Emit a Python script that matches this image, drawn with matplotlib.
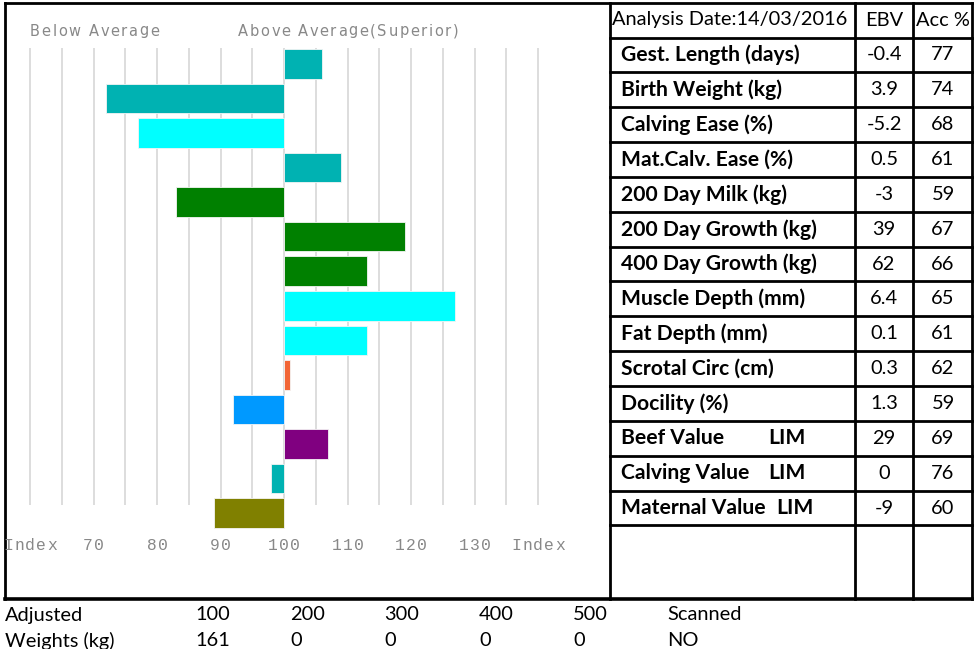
import matplotlib
matplotlib.use("Agg")
import matplotlib.pyplot as plt
from matplotlib.font_manager import FontProperties

# ---------------- data ----------------
traits = ["Gest. Length (days)", "Birth Weight (kg)", "Calving Ease (%)",
          "Mat.Calv. Ease (%)", "200 Day Milk (kg)", "200 Day Growth (kg)",
          "400 Day Growth (kg)", "Muscle Depth (mm)", "Fat Depth (mm)",
          "Scrotal Circ (cm)", "Docility (%)", "Beef Value", "Calving Value",
          "Maternal Value"]
breed_tags = ["", "", "", "", "", "", "", "", "", "", "", "LIM", "LIM", "LIM"]
ebv = ["-0.4", "3.9", "-5.2", "0.5", "-3", "39", "62", "6.4", "0.1", "0.3",
       "1.3", "29", "0", "-9"]
acc = ["77", "74", "68", "61", "59", "67", "66", "65", "61", "62", "59",
       "69", "76", "60"]
index_values = [106, 72, 77, 109, 83, 119, 113, 127, 113, 101, 92, 107, 98, 89]
bar_colors = ["#00B2B2", "#00B2B2", "#00FFFF", "#00B2B2", "#008000", "#008000",
              "#008000", "#00FFFF", "#00FFFF", "#F26535", "#0099FF", "#800080",
              "#00B2B2", "#808000"]
index_ticks = [60, 70, 80, 90, 100, 110, 120, 130, 140]
index_tick_labels = ["Index", "70", "80", "90", "100", "110", "120", "130", "Index"]
grid_positions = list(range(60, 141, 5))
analysis_date = "14/03/2016"
weight_days = ["100", "200", "300", "400", "500"]
weight_values = ["161", "0", "0", "0", "0"]
scanned_value = "NO"

# ---------------- layout ----------------
W, H = 976, 649
fig = plt.figure(figsize=(W / 100, H / 100), dpi=100)
fig.patch.set_facecolor("white")
renderer = fig.canvas.get_renderer()

# overlay in pixel coordinates (top-left origin)
ov = fig.add_axes([0, 0, 1, 1], zorder=5)
ov.set_xlim(0, W)
ov.set_ylim(H, 0)
ov.axis("off")
ov.patch.set_alpha(0)


def text_w(s, fp):
    if not s:
        return 0.0
    w, h, d = renderer.get_text_width_height_descent(s.replace(" ", "\u00a0"), fp, ismath=False)
    return w


def spaced_text(axis, x, y, s, family, size, spacing, color, ha="left"):
    """Draw text with extra letter spacing (in pixels)."""
    fp = FontProperties(family=family, size=size)
    total = text_w(s, fp) + spacing * (len(s) - 1)
    x0 = x - total / 2 if ha == "center" else x
    for i, ch in enumerate(s):
        if ch == " ":
            continue
        axis.text(x0 + text_w(s[:i], fp) + i * spacing, y, ch, ha="left",
                  va="center", fontproperties=fp, color=color)
    return total


# bar chart axes
left_px, right_px, top_px, bot_px = 5, 610, 3, 599
ax = fig.add_axes([left_px / W, 1 - bot_px / H, (right_px - left_px) / W,
                   (bot_px - top_px) / H], zorder=1)
px_per_unit = 6.35
center_px = 284
row0_px, row_pitch = 64, 34.54
ax.set_xlim(100 - (center_px - left_px) / px_per_unit,
            100 + (right_px - center_px) / px_per_unit)
ax.set_ylim((bot_px - row0_px) / row_pitch, (top_px - row0_px) / row_pitch)
ax.axis("off")

ax.vlines(grid_positions, (48 - row0_px) / row_pitch, (505 - row0_px) / row_pitch,
          color="#DDDDDD", lw=1.4, zorder=0)
rows = list(range(len(index_values)))
ax.barh(rows, [v - 100 for v in index_values], left=100, height=0.855,
        color=bar_colors, edgecolor="#f4f4f4", linewidth=0.6, zorder=2)

# tick labels: positions from the data scale, drawn with letter spacing
fig.canvas.draw()
for t, lab in zip(index_ticks, index_tick_labels):
    xp, _ = ax.transData.transform((t, 0))
    spaced_text(ov, xp, 545, lab, "Liberation Mono", 11.8, 1.1, "#888888",
                ha="center")

spaced_text(ov, 30, 31, "Below Average", "DejaVu Sans", 10.5, 1.7, "#888888")
spaced_text(ov, 238, 31, "Above Average(Superior)", "DejaVu Sans", 10.5, 1.65,
            "#888888")

# ---------------- fonts fitted to target widths ----------------


def fit_size(text, target_px, weight, base=14):
    fp = FontProperties(family="Lato", weight=weight, size=base)
    return base * target_px / text_w(text, fp)


bold_size = fit_size("Gest. Length (days)", 180, "bold")
reg_size = fit_size("Analysis Date:14/03/2016", 236, "normal")

# ---------------- table ----------------
lw = 2.0
col_x = [610, 855, 913, 972]
header_line = 37.5
text_pitch = 34.85
first_center = 55
row_lines = [header_line + text_pitch * k for k in range(len(traits) + 1)]

# outer frame
ov.plot([5, 972], [3, 3], color="black", lw=lw, solid_capstyle="projecting")
ov.plot([5, 972], [599, 599], color="black", lw=lw + 0.6, solid_capstyle="projecting")
ov.plot([5, 5], [3, 599], color="black", lw=lw, solid_capstyle="projecting")
for x in col_x:
    ov.plot([x, x], [3, 599], color="black", lw=lw, solid_capstyle="projecting")
for y in row_lines:
    ov.plot([610, 972], [y, y], color="black", lw=lw, solid_capstyle="projecting")

ov.text(612, 20, "Analysis Date:" + analysis_date, ha="left", va="center",
        family="Lato", fontsize=reg_size)
ov.text(884, 20, "EBV", ha="center", va="center", family="Lato", fontsize=reg_size)
ov.text(943, 20, "Acc %", ha="center", va="center", family="Lato", fontsize=reg_size)

lim_x = {"Beef Value": 768, "Calving Value": 768, "Maternal Value": 776}
for i, (name, tag, e, a) in enumerate(zip(traits, breed_tags, ebv, acc)):
    y = first_center + text_pitch * i
    ov.text(621, y, name, ha="left", va="center", family="Lato",
            weight="bold", fontsize=bold_size)
    if tag:
        ov.text(lim_x.get(name, 768), y, tag, ha="left", va="center",
                family="Lato", weight="bold", fontsize=bold_size)
    ov.text(884, y, e, ha="center", va="center", family="Lato", fontsize=reg_size)
    ov.text(943, y, a, ha="center", va="center", family="Lato", fontsize=reg_size)

# ---------------- bottom rows ----------------
ov.text(5, 615, "Adjusted", ha="left", va="center", family="Lato", fontsize=reg_size)
ov.text(5, 641, "Weights (kg)", ha="left", va="center", family="Lato", fontsize=reg_size)
day_x = [195, 290, 384, 479, 573]
for x, d, v in zip(day_x, weight_days, weight_values):
    ov.text(x, 615, d, ha="left", va="center", family="Lato", fontsize=reg_size)
    ov.text(x, 641, v, ha="left", va="center", family="Lato", fontsize=reg_size)
ov.text(667, 615, "Scanned", ha="left", va="center", family="Lato", fontsize=reg_size)
ov.text(667, 641, scanned_value, ha="left", va="center", family="Lato", fontsize=reg_size)

fig.savefig("out.png", dpi=100, facecolor="white")
